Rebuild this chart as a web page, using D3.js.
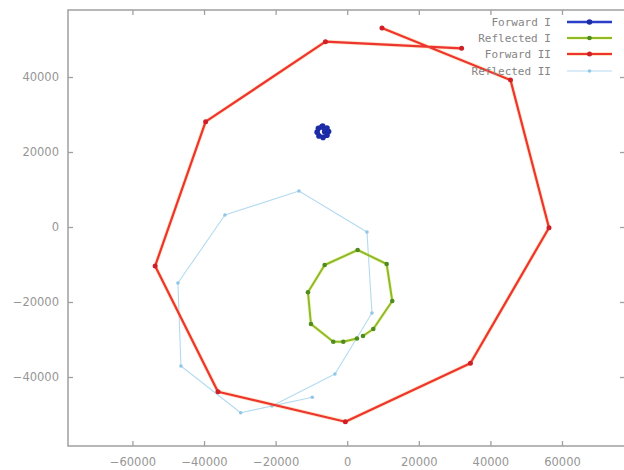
<!DOCTYPE html>
<html>
<head>
<meta charset="utf-8">
<script src="https://cdn.jsdelivr.net/npm/d3@7/dist/d3.min.js"></script>
<style>
  html, body { margin: 0; padding: 0; background: #fff; }
  svg { display: block; }
</style>
</head>
<body>
<svg id="chart" width="624" height="470"></svg>
<script>
// Trajectories (x, y) for each run
const forwardI = [
  [-6860, 26900], [-5650, 26400], [-5200, 25450], [-5650, 24450], [-6750, 23900],
  [-7900, 24300], [-8400, 25300], [-8050, 26350], [-7100, 26700], [-6300, 25400]
];
const reflectedI = [
  [2724, -29733], [-1104, -30587], [-3898, -30587], [-10128, -25867], [-10967, -17413],
  [-6300, -10133], [2920, -6133], [11022, -9867], [12587, -19730], [7278, -27200], [4400, -29070]
];
const forwardII = [
  [31950, 47650], [-6077, 49420], [-39550, 28080], [-53660, -10400], [-36110, -43920],
  [-517, -51920], [34410, -36350], [56370, -190], [45610, 39200], [9710, 53070]
];
const reflectedII = [
  [-21025, -47730], [-3423, -39200], [6915, -22930], [5518, -1333], [-13480, 9600],
  [-34160, 3200], [-47290, -14930], [-46450, -37070], [-29770, -49520], [-9765, -45410]
];

const seriesNames = ["Forward I", "Reflected I", "Forward II", "Reflected II"];
const xTicks = [-60000, -40000, -20000, 0, 20000, 40000, 60000];
const yTicks = [-40000, -20000, 0, 20000, 40000];

const svg = d3.select("#chart");
const m = { left: 68, right: 625, top: 10, bottom: 446 };

const x = d3.scaleLinear().domain([-78000, 77600]).range([m.left, m.right]);
const y = d3.scaleLinear().domain([-58400, 57870]).range([m.bottom, m.top]);

const axisColor = "#a0a0a0";
const labelColor = "#969696";

// Frame
svg.append("path")
  .attr("d", `M${m.right},${m.top}H${m.left}V${m.bottom}H${m.right}`)
  .attr("fill", "none").attr("stroke", axisColor).attr("stroke-width", 1.5);

// Ticks: inward ticks mirrored on all sides
const tickLen = 5;
const xAxisB = d3.axisBottom(x).tickValues(xTicks).tickSize(-tickLen).tickPadding(12)
  .tickFormat(d3.format("d"));
const gx = svg.append("g").attr("transform", `translate(0,${m.bottom})`).call(xAxisB);
gx.select(".domain").remove();
const xAxisT = d3.axisTop(x).tickValues(xTicks).tickSize(-tickLen).tickFormat("");
const gxt = svg.append("g").attr("transform", `translate(0,${m.top})`).call(xAxisT);
gxt.select(".domain").remove();

const yAxisL = d3.axisLeft(y).tickValues(yTicks).tickSize(-tickLen).tickPadding(9)
  .tickFormat(d3.format("d"));
const gy = svg.append("g").attr("transform", `translate(${m.left},0)`).call(yAxisL);
gy.select(".domain").remove();
const yAxisR = d3.axisRight(y).tickValues(yTicks).tickSize(-tickLen).tickFormat("");
const gyr = svg.append("g").attr("transform", `translate(${m.right},0)`).call(yAxisR);
gyr.select(".domain").remove();

svg.selectAll(".tick line").attr("stroke", axisColor).attr("stroke-width", 1.3);
svg.selectAll(".tick text")
  .attr("fill", labelColor)
  .style("font-family", "'DejaVu Sans', sans-serif")
  .style("font-size", "11.5px");

const line = d3.line().x(d => x(d[0])).y(d => y(d[1]));

const styles = [
  { data: forwardI, color: "#2a3ec8", width: 2.4, halo: null, pt: "#1c2ca6", r: 2.8 },
  { data: reflectedI, color: "#8cba2a", width: 2.0, halo: "#e8ea50", pt: "#4f8c20", r: 2.3 },
  { data: forwardII, color: "#ee3430", width: 2.2, halo: "#f8b04a", pt: "#cf1f28", r: 2.5 },
  { data: reflectedII, color: "#b4daf0", width: 1.1, halo: null, pt: "#90c6e6", r: 1.8 }
];

const plot = svg.append("g");
// Back to front: Reflected II, Reflected I, Forward II, Forward I
[3, 1, 2, 0].forEach(i => {
  const s = styles[i];
  const g = plot.append("g");
  if (s.halo) {
    g.append("path").attr("d", line(s.data)).attr("fill", "none")
      .attr("stroke", s.halo).attr("stroke-width", s.width + 1.6)
      .attr("stroke-opacity", 0.35).attr("stroke-linejoin", "round");
  }
  g.append("path").attr("d", line(s.data)).attr("fill", "none")
    .attr("stroke", s.color).attr("stroke-width", s.width)
    .attr("stroke-linejoin", "round");
  g.selectAll("circle").data(s.data).join("circle")
    .attr("cx", d => x(d[0])).attr("cy", d => y(d[1]))
    .attr("r", s.r).attr("fill", s.pt);
});

// Legend
const legend = svg.append("g");
const legendY = [22, 38, 54, 71];
seriesNames.forEach((name, i) => {
  const s = styles[i];
  const yy = legendY[i];
  legend.append("text")
    .attr("x", 551).attr("y", yy).attr("dy", "0.35em")
    .attr("text-anchor", "end")
    .attr("fill", "#858585")
    .style("font-family", "'DejaVu Sans Mono', monospace")
    .style("font-size", "11px")
    .text(name);
  if (s.halo) {
    legend.append("line").attr("x1", 567).attr("x2", 612).attr("y1", yy).attr("y2", yy)
      .attr("stroke", s.halo).attr("stroke-width", s.width + 1.6).attr("stroke-opacity", 0.35);
  }
  legend.append("line").attr("x1", 567).attr("x2", 612).attr("y1", yy).attr("y2", yy)
    .attr("stroke", s.color).attr("stroke-width", s.width);
  legend.append("circle").attr("cx", 589.5).attr("cy", yy).attr("r", s.r).attr("fill", s.pt);
});
</script>
</body>
</html>
